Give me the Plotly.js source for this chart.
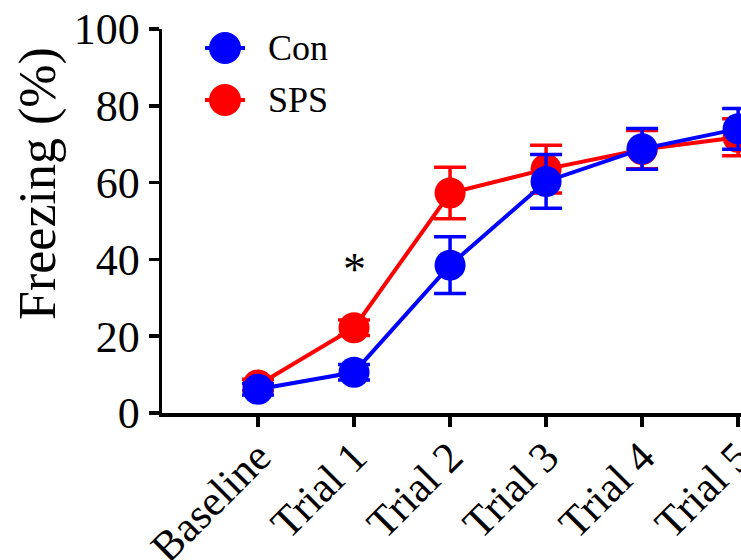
<!DOCTYPE html>
<html>
<head>
<meta charset="utf-8">
<script src="https://cdn.plot.ly/plotly-3.0.1.min.js"></script>
<style>html,body{margin:0;padding:0;background:#fff;}#chart{width:741px;height:560px;}</style>
</head>
<body>
<div id="chart"></div>
<script>
const categories = ["Baseline", "Trial 1", "Trial 2", "Trial 3", "Trial 4", "Trial 5"];
const conMean = [6.2, 10.6, 38.5, 60.3, 68.8, 74.0];
const conErr  = [1.5, 2.0, 7.4, 7.0, 5.3, 5.3];
const spsMean = [7.3, 22.2, 57.3, 63.5, 68.6, 71.8];
const spsErr  = [1.5, 2.0, 6.7, 6.2, 5.0, 4.8];
const seriesNames = ["Con", "SPS"];
const seriesColors = ["#0000ff", "#ff0000"];
const yTitle = "Freezing (%)";
const sigLabel = "*";
const sigCategory = "Trial 1";
const sigY = 37.4;

const font = "Liberation Serif, Times New Roman, serif";

function trace(name, y, e, color) {
  return {
    type: "scatter", mode: "lines+markers", name: name,
    x: categories, y: y,
    line: {color: color, width: 4},
    marker: {color: color, size: 31, line: {width: 0}},
    error_y: {type: "data", array: e, visible: true, color: color, thickness: 3.5, width: 16},
    cliponaxis: false, showlegend: false
  };
}

const data = [
  trace(seriesNames[1], spsMean, spsErr, seriesColors[1]),
  trace(seriesNames[0], conMean, conErr, seriesColors[0])
];

// custom legend (large markers like the original)
const L = 162, R = 741, T = 29, B = 413;
const px = v => (v - L) / (R - L);
const py = v => (B - v) / (B - T);
const legendRows = [{name: seriesNames[0], color: seriesColors[0], y: 48}, {name: seriesNames[1], color: seriesColors[1], y: 100}];
const shapes = [], annotations = [];
legendRows.forEach(r => {
  shapes.push({type: "line", xref: "paper", yref: "paper", x0: px(205), x1: px(245), y0: py(r.y), y1: py(r.y), line: {color: r.color, width: 4}});
  shapes.push({type: "circle", xref: "paper", yref: "paper", xsizemode: "pixel", ysizemode: "pixel",
    xanchor: px(225), yanchor: py(r.y), x0: -16, x1: 16, y0: -16, y1: 16, fillcolor: r.color, line: {width: 0}});
  annotations.push({xref: "paper", yref: "paper", x: px(266), y: py(r.y), xanchor: "left", yanchor: "middle",
    text: r.name, showarrow: false, font: {family: font, size: 36, color: "#000"}});
});
annotations.push({x: sigCategory, y: sigY, xref: "x", yref: "y", text: sigLabel, showarrow: false,
  font: {family: font, size: 46, color: "#000"}});
annotations.push({xref: "paper", yref: "paper", x: px(38), y: py(184), xanchor: "center", yanchor: "middle",
  textangle: -90, text: yTitle, showarrow: false, font: {family: font, size: 52, color: "#000"}});

const layout = {
  width: 741, height: 560,
  margin: {l: 162, r: 0, t: 29, b: 147},
  paper_bgcolor: "#fff", plot_bgcolor: "#fff",
  showlegend: false,
  font: {family: font, color: "#000"},
  xaxis: {
    type: "category", range: [-1, 5.03],
    showline: true, linecolor: "#000", linewidth: 3.5,
    ticks: "outside", ticklen: 10, tickwidth: 3.5, tickcolor: "#000",
    tickangle: -45, tickfont: {family: font, size: 43, color: "#000"},
    ticklabelstandoff: -12,
    showgrid: false, zeroline: false, fixedrange: true
  },
  yaxis: {
    range: [0, 100], tickvals: [0, 20, 40, 60, 80, 100],
    showline: true, linecolor: "#000", linewidth: 3.5,
    ticks: "outside", ticklen: 10, tickwidth: 3.5, tickcolor: "#000",
    tickfont: {family: font, size: 44, color: "#000"},
    showgrid: false, zeroline: false, fixedrange: true
  },
  shapes: shapes,
  annotations: annotations
};

Plotly.newPlot("chart", data, layout, {displayModeBar: false, staticPlot: true});
</script>
</body>
</html>
